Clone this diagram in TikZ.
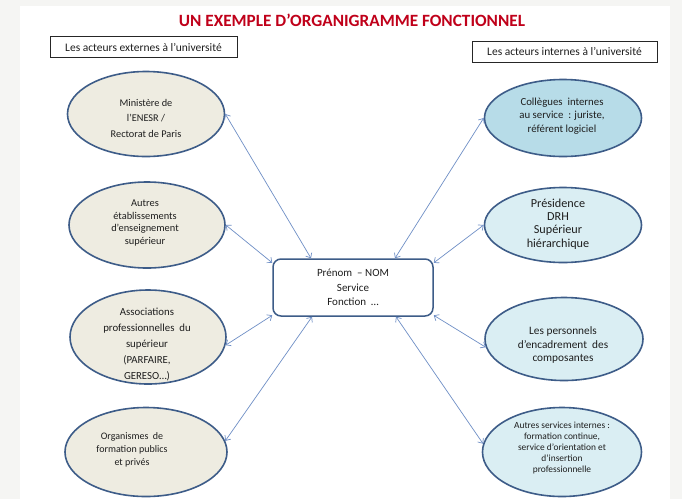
\documentclass[tikz,border=0pt]{standalone}
\usepackage{fontspec}
\setmainfont{Carlito}
\usetikzlibrary{shapes.geometric,arrows.meta}
\definecolor{bggray}{HTML}{F5F5F3}
\definecolor{titlered}{HTML}{C0001A}
\definecolor{edgeblue}{HTML}{3D5C88}
\definecolor{arrowblue}{HTML}{6F8FC6}
\definecolor{beige}{HTML}{EEECE1}
\definecolor{aquaA}{HTML}{B7DCE8}
\definecolor{aquaB}{HTML}{DAEEF3}
\definecolor{txt}{HTML}{1E1E1E}
\tikzset{
  ell/.style={ellipse, draw=edgeblue, line width=1.6pt, inner sep=0pt},
  lbl/.style={align=center, text=txt, inner sep=0pt},
  hdr/.style={draw=black!85, line width=1pt, fill=white, minimum height=21pt, inner sep=0pt, text=txt, font=\fontsize{11.5}{13}\selectfont},
  link/.style={draw=arrowblue, line width=0.7pt, {Straight Barb[length=4pt,width=7pt]}-{Straight Barb[length=4pt,width=7pt]}},
}
\newcommand{\fs}[2]{\fontsize{#1}{#2}\selectfont}
\begin{document}
\begin{tikzpicture}[x=1pt,y=-1pt]
\useasboundingbox (0,0) rectangle (682,499);
\fill[bggray] (0,0) rectangle (682,499);
\fill[white] (20,6) rectangle (670,499);

\node[font=\bfseries\fs{17.2}{20}, text=titlered, inner sep=0pt] (title) at (352,20) {UN EXEMPLE D’ORGANIGRAMME FONCTIONNEL};

\node[hdr, minimum width=187pt] (hl) at (143.5,47) {Les acteurs externes à l’université};
\node[hdr, minimum width=185pt] (hr) at (564.5,51.5) {Les acteurs internes à l’université};

% left ellipses
\node[ell, fill=beige, minimum width=157pt, minimum height=85pt] (e1) at (146,114) {};
\node[ell, fill=beige, minimum width=156pt, minimum height=86pt] (e2) at (147,225) {};
\node[ell, fill=beige, minimum width=156pt, minimum height=94pt] (e3) at (148,337) {};
\node[ell, fill=beige, minimum width=162pt, minimum height=89pt] (e4) at (146,452) {};
% right ellipses
\node[ell, fill=aquaA, minimum width=157pt, minimum height=77pt] (r1) at (563,118) {};
\node[ell, fill=aquaB, minimum width=157pt, minimum height=75pt] (r2) at (563,225) {};
\node[ell, fill=aquaB, minimum width=158pt, minimum height=83pt] (r3) at (564,339) {};
\node[ell, fill=aquaB, minimum width=159pt, minimum height=89pt] (r4) at (562,452) {};

% texts
\node[lbl, font=\fs{10.3}{15.5}] (t1) at (146,118) {Ministère de\\l’ENESR /\\Rectorat de Paris};
\node[lbl, font=\fs{10.4}{12.5}] (t2) at (145,223) {Autres\\établissements\\d’enseignement\\supérieur};
\node[lbl, font=\fs{10.8}{16}] (t3) at (147,345) {Associations\\professionnelles\ \ du\\supérieur\\(PARFAIRE,\\GERESO…)};
\node[lbl, font=\fs{10}{13}] (t4) at (132,450) {Organismes\ \ de\\formation publics\\et privés};
\node[lbl, font=\fs{10.8}{13.3}] (u1) at (562,116) {Collègues\ \ internes\\au service\ \ : juriste,\\référent logiciel};
\node[lbl, font=\fs{12.2}{13.3}] (u2) at (558,224) {Présidence\\DRH\\Supérieur\\hiérarchique};
\node[lbl, font=\fs{11.3}{13.5}] (u3) at (563,345) {Les personnels\\d’encadrement\ \ des\\composantes};
\node[lbl, font=\fs{9.4}{11.2}] (u4) at (562,448) {Autres services internes :\\formation continue,\\service d’orientation et\\d’insertion\\professionnelle};

% central box
\node[draw=edgeblue, line width=1.5pt, rounded corners=8pt, fill=white, minimum width=160pt, minimum height=57pt, align=center, text=txt, font=\fs{11}{14.5}] (box) at (353,287.5) {Prénom\ \ – NOM\\Service\\Fonction\ \ …};

% connectors
\draw[link] (e1.east) -- ([xshift=-42pt]box.north);
\draw[link] (e2.east) -- (box.163);
\draw[link] (e3.-6) -- (box.-161);
\draw[link] (e4.8) -- ([xshift=-41pt]box.south);
\draw[link] (r1.west) -- ([xshift=42pt]box.north);
\draw[link] (r2.west) -- (box.17);
\draw[link] (r3.186) -- (box.-19);
\draw[link] (r4.174) -- ([xshift=43pt]box.south);
\end{tikzpicture}
\end{document}
